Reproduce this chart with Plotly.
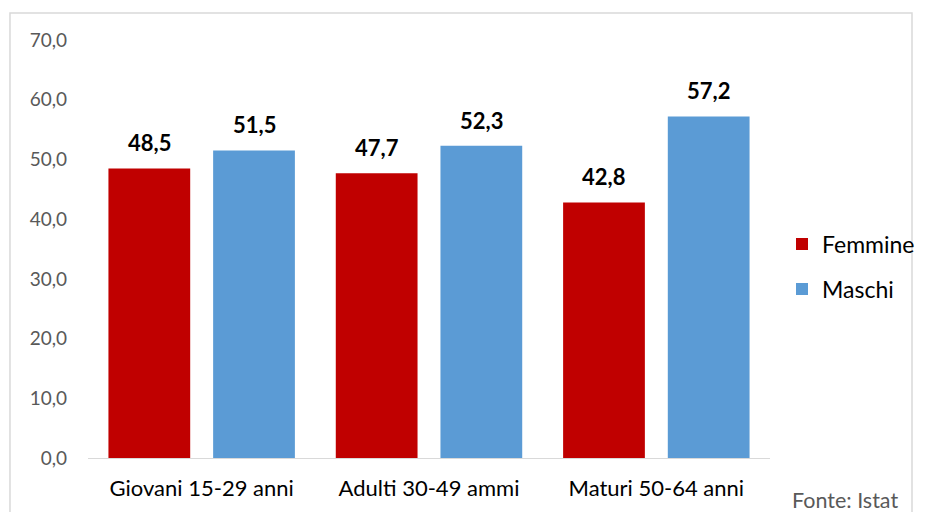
import plotly.graph_objects as go

categories = ["Giovani 15-29 anni", "Adulti 30-49 ammi", "Maturi 50-64 anni"]
femmine = [48.5, 47.7, 42.8]
maschi = [51.5, 52.3, 57.2]
series_names = ["Femmine", "Maschi"]
colors = ["#C00000", "#5B9BD5"]
y_ticks = [0, 10, 20, 30, 40, 50, 60, 70]

FONT = "Lato"

fig = go.Figure()
for name, vals, col in zip(series_names, [femmine, maschi], colors):
    fig.add_trace(go.Bar(name=name, x=categories, y=vals, legendgroup=name,
                         marker=dict(color=col, line=dict(width=0))))

annotations = []
for vals, shift in [(femmine, -52.5), (maschi, 52.5)]:
    for c, v in zip(categories, vals):
        annotations.append(dict(x=c, y=v, xref="x", yref="y", text="<b>" + f"{v:.1f}".replace(".", ",") + "</b>",
                                showarrow=False, xshift=shift, yshift=10, yanchor="bottom",
                                font=dict(family=FONT, size=22, color="#000000")))
annotations.append(dict(x=1.110, y=-0.100, xref="paper", yref="paper", text="Fonte: Istat", showarrow=False,
                        xanchor="center", yanchor="middle", font=dict(family=FONT, size=21.5, color="#595959")))

fig.update_layout(
    width=925, height=512,
    margin=dict(l=88, r=155, t=40, b=54, autoexpand=False),
    paper_bgcolor="white", plot_bgcolor="white",
    separators=",.",
    barmode="group", bargap=0.079, bargroupgap=0.219,
    showlegend=True,
    legend=dict(x=1.0176, y=0.458, xanchor="left", yanchor="middle",
                font=dict(family=FONT, size=23, color="#000000"),
                tracegroupgap=12, traceorder="grouped", bgcolor="rgba(0,0,0,0)"),
    annotations=annotations,
    shapes=[dict(type="rect", xref="paper", yref="paper", x0=-0.1144, x1=1.2082, y0=-0.2, y1=1.0646,
                 line=dict(color="#D9D9D9", width=1.5), fillcolor="rgba(0,0,0,0)", layer="below")],
    font=dict(family=FONT),
)
fig.update_yaxes(range=[0, 70], tickvals=y_ticks, tickformat=".1f", showgrid=False, zeroline=False,
                 showline=False, ticks="", ticklabelstandoff=20,
                 tickfont=dict(family=FONT, size=19, color="#595959"))
fig.update_xaxes(showgrid=False, showline=True, linecolor="#D9D9D9", linewidth=1, ticks="",
                 tickfont=dict(family=FONT, size=22, color="#000000"), ticklabelstandoff=11)

fig.write_html("out.html", config={"displayModeBar": False},
               post_script="document.body.style.margin='0';")
